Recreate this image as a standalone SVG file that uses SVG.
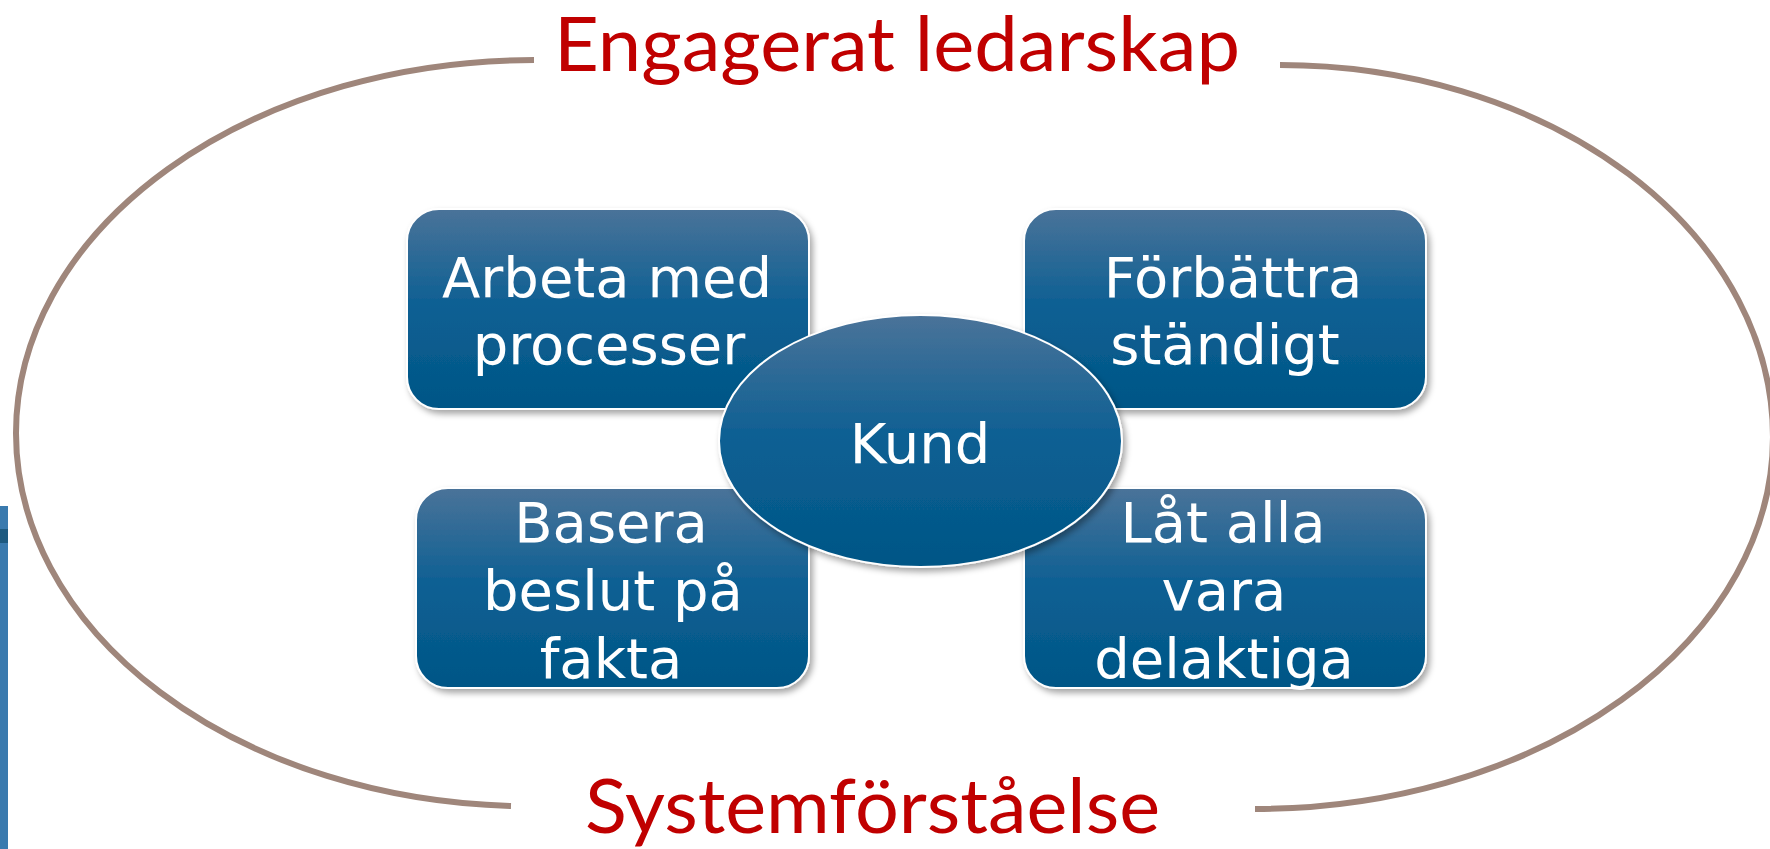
<svg xmlns="http://www.w3.org/2000/svg" width="1770" height="849" viewBox="0 0 1770 849">
  <defs>
    <linearGradient id="blueGrad" x1="0" y1="0" x2="0" y2="1">
      <stop offset="0" stop-color="#4A7399"/>
      <stop offset="0.5" stop-color="#0B5F93"/>
      <stop offset="1" stop-color="#025686"/>
    </linearGradient>
    <filter id="shadow" x="-10%" y="-10%" width="125%" height="130%">
      <feDropShadow dx="3" dy="4" stdDeviation="3" flood-color="#000" flood-opacity="0.35"/>
    </filter>
    <style>
      .box { fill: url(#blueGrad); stroke: #FFFFFF; stroke-width: 2; filter: url(#shadow); }
      .lbl { font-family: "DejaVu Sans", Verdana, sans-serif; font-size: 56px; fill: #FFFFFF; text-anchor: middle; }
      .title { font-family: Lato, "Liberation Sans", sans-serif; font-size: 75px; fill: #C00000; }
      .arc { fill: none; stroke: #9F867B; stroke-width: 6; stroke-linecap: butt; }
    </style>
  </defs>
  <rect width="1770" height="849" fill="#FFFFFF"/>

  <!-- partial blue bar at left edge -->
  <g id="edge-bar">
    <rect x="0" y="506" width="8" height="343" fill="#3A7AAE"/>
    <rect x="0" y="529" width="8" height="14" fill="#1E5A80"/>
  </g>

  <!-- surrounding arcs -->
  <g id="connectors">
    <path class="arc" d="M 534 60 A 518 373 0 0 0 16 433 A 514 373 0 0 0 511 806"/>
    <path class="arc" d="M 1280 65 A 493 372 0 0 1 1773 437 A 518 372 0 0 1 1255 809"/>
  </g>

  <g id="title-top">
    <text class="title" x="554" y="71" textLength="686" lengthAdjust="spacingAndGlyphs">Engagerat ledarskap</text>
  </g>
  <g id="title-bottom">
    <text class="title" x="585" y="833" textLength="575" lengthAdjust="spacingAndGlyphs">Systemförståelse</text>
  </g>

  <g id="node-arbeta">
    <rect class="box" x="407" y="209" width="402" height="200" rx="32" ry="32"/>
    <text class="lbl" x="607" y="297">Arbeta med</text>
    <text class="lbl" x="609" y="364">processer</text>
  </g>
  <g id="node-forbattra">
    <rect class="box" x="1024" y="209" width="402" height="200" rx="32" ry="32"/>
    <text class="lbl" x="1233" y="297">Förbättra</text>
    <text class="lbl" x="1225" y="364">ständigt</text>
  </g>
  <g id="node-basera">
    <rect class="box" x="416" y="488" width="393" height="200" rx="32" ry="32"/>
    <text class="lbl" x="611" y="542">Basera</text>
    <text class="lbl" x="613" y="610">beslut på</text>
    <text class="lbl" x="611" y="678">fakta</text>
  </g>
  <g id="node-lat">
    <rect class="box" x="1024" y="488" width="402" height="200" rx="32" ry="32"/>
    <text class="lbl" x="1223" y="542">Låt alla</text>
    <text class="lbl" x="1224" y="610">vara</text>
    <text class="lbl" x="1224" y="678">delaktiga</text>
  </g>
  <g id="node-kund">
    <ellipse class="box" cx="920.5" cy="441" rx="201.5" ry="126"/>
    <text class="lbl" x="920" y="463">Kund</text>
  </g>
</svg>
